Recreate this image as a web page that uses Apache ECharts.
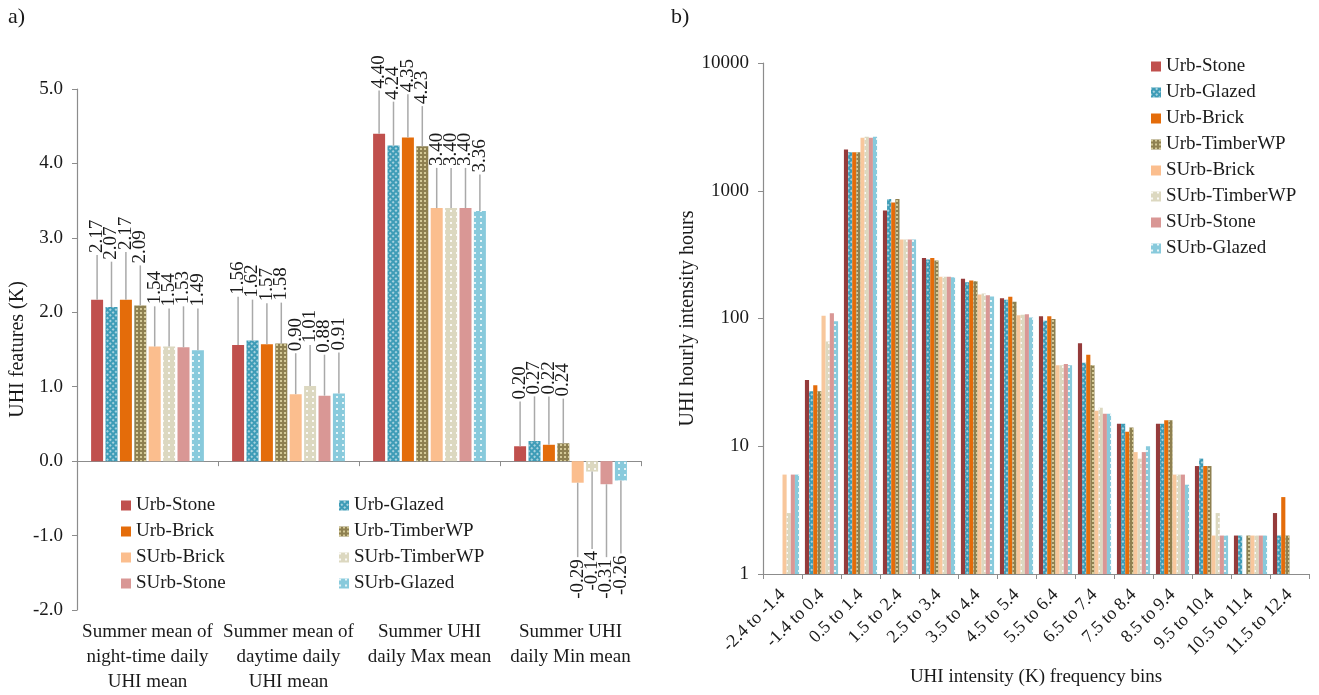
<!DOCTYPE html>
<html><head><meta charset="utf-8">
<script src="https://cdn.jsdelivr.net/npm/echarts@6/dist/echarts.min.js"></script>
<style>html,body{margin:0;padding:0;background:#fff}#c{width:1319px;height:695px}</style>
</head><body><div id="c"></div>
<script>
// ---------- DATA ----------
const seriesNames = ['Urb-Stone','Urb-Glazed','Urb-Brick','Urb-TimberWP','SUrb-Brick','SUrb-TimberWP','SUrb-Stone','SUrb-Glazed'];
const featureCategories = ['Summer mean of\nnight-time daily\nUHI mean','Summer mean of\ndaytime daily\nUHI mean','Summer UHI\ndaily Max mean','Summer UHI\ndaily Min mean'];
const featureTicks = [-2, -1, 0, 1, 2, 3, 4, 5];

// panel a: mean values per series (4 categories)
const urbStoneMean    = [2.17, 1.56, 4.40, 0.20];
const urbGlazedMean   = [2.07, 1.62, 4.24, 0.27];
const urbBrickMean    = [2.17, 1.57, 4.35, 0.22];
const urbTimberMean   = [2.09, 1.58, 4.23, 0.24];
const surbBrickMean   = [1.54, 0.90, 3.40, -0.29];
const surbTimberMean  = [1.54, 1.01, 3.40, -0.14];
const surbStoneMean   = [1.53, 0.88, 3.40, -0.31];
const surbGlazedMean  = [1.49, 0.91, 3.36, -0.26];
// panel a: error bar lengths (estimated)
const urbStoneErr   = [0.60, 0.65, 0.58, 0.60];
const urbGlazedErr  = [0.61, 0.55, 0.59, 0.60];
const urbBrickErr   = [0.64, 0.55, 0.58, 0.65];
const urbTimberErr  = [0.54, 0.55, 0.54, 0.60];
const surbBrickErr  = [0.54, 0.55, 0.54, 1.00];
const surbTimberErr = [0.51, 0.55, 0.54, 1.04];
const surbStoneErr  = [0.55, 0.55, 0.54, 0.98];
const surbGlazedErr = [0.56, 0.55, 0.49, 0.98];

// panel b
const intensityBins = ['-2.4 to -1.4','-1.4 to 0.4','0.5 to 1.4','1.5 to 2.4','2.5 to 3.4','3.5 to 4.4','4.5 to 5.4','5.5 to 6.4','6.5 to 7.4','7.5 to 8.4','8.5 to 9.4','9.5 to 10.4','10.5 to 11.4','11.5 to 12.4'];
const urbStoneHours   = [null, 33, 2100, 700, 298, 205, 144, 104, 64, 15, 15, 7, 2, 3];
const urbGlazedHours  = [null, 27, 2000, 860, 289, 192, 140, 96, 45, 15, 15, 8, 2, 2];
const urbBrickHours   = [null, 30, 2000, 810, 298, 198, 148, 104, 52, 13, 16, 7, null, 4];
const urbTimberHours  = [null, 27, 2000, 860, 284, 196, 135, 99, 43, 14, 16, 7, 2, 2];
const surbBrickHours  = [6, 105, 2600, 415, 212, 154, 106, 43, 19, 9, 6, 2, 2, null];
const surbTimberHours = [3, 66, 2650, 415, 212, 157, 107, 43, 20, 8, 6, 3, 2, null];
const surbStoneHours  = [6, 110, 2600, 415, 212, 152, 108, 44, 18, 9, 6, 2, 2, null];
const surbGlazedHours = [6, 95, 2650, 415, 210, 149, 102, 43, 18, 10, 5, 2, 2, null];
const hourTicks = [1, 10, 100, 1000, 10000];

// ---------- STYLE ----------
const FONT = '"Liberation Serif", "Times New Roman", serif';
const TXT = '#1a1a1a';
const AX = '#8c8c8c';
const meanArr = [urbStoneMean, urbGlazedMean, urbBrickMean, urbTimberMean, surbBrickMean, surbTimberMean, surbStoneMean, surbGlazedMean];
const errArr = [urbStoneErr, urbGlazedErr, urbBrickErr, urbTimberErr, surbBrickErr, surbTimberErr, surbStoneErr, surbGlazedErr];
const hoursArr = [urbStoneHours, urbGlazedHours, urbBrickHours, urbTimberHours, surbBrickHours, surbTimberHours, surbStoneHours, surbGlazedHours];

const colorsA = ['#C0504D', '#3E9CB7', '#E46C0A', '#8E8050', '#FBBE8E', '#DCD8C0', '#D99795', '#88CADC'];
const colorsB = ['#953B3B', '#3E9CB7', '#E46C0A', '#8E8050', '#F8C79C', '#DCD8C0', '#D99795', '#88CADC'];
const decals = [
  null,
  {symbol:'rect', symbolSize:1, dashArrayX:[2,2], dashArrayY:[2,2], rotation:Math.PI/4, color:'rgba(255,255,255,0.55)'},
  null,
  {symbol:'rect', symbolSize:1, dashArrayX:[2,2], dashArrayY:[2,2], color:'rgba(235,225,175,0.75)'},
  null,
  {symbol:'rect', symbolSize:1, dashArrayX:[1.5,3.5], dashArrayY:[1.5,3.5], color:'rgba(255,255,255,0.85)'},
  null,
  {symbol:'rect', symbolSize:1, dashArrayX:[1.5,4], dashArrayY:[1.5,4], color:'rgba(255,255,255,0.8)'}
];
function itemStyleFor(color, si) {
  const s = {color};
  if (decals[si]) s.decal = decals[si];
  return s;
}

const BAR_W = 12, GAP = 0.2;
const step = BAR_W * (1 + GAP);
const totalW = 8 * BAR_W + 7 * BAR_W * GAP;

const series = [];
seriesNames.forEach((name, si) => {
  series.push({
    name, type:'bar', xAxisIndex:0, yAxisIndex:0,
    data: meanArr[si], barWidth: BAR_W, barGap: '20%',
    itemStyle: itemStyleFor(colorsA[si], si),
    emphasis: {disabled: true}
  });
});
seriesNames.forEach((name, si) => {
  const off = -totalW / 2 + BAR_W / 2 + si * step;
  series.push({
    type:'custom', xAxisIndex:0, yAxisIndex:0, z: 4, silent: true,
    data: meanArr[si].map((v, i) => [i, v, errArr[si][i]]),
    renderItem(params, api) {
      const i = api.value(0), v = api.value(1), e = api.value(2);
      const end = v >= 0 ? v + e : v - e;
      const p0 = api.coord([i, v]), p1 = api.coord([i, end]);
      const x = p0[0] + off;
      return {type:'group', children:[
        {type:'line', shape:{x1:x, y1:p0[1], x2:x, y2:p1[1]}, style:{stroke:'#A9A9A9', lineWidth:1.5}},
        {type:'text', x: x, y: v >= 0 ? p1[1] - 2 : p1[1] + 2, rotation: Math.PI / 2,
         style:{text: v.toFixed(2), align: v >= 0 ? 'left' : 'right', verticalAlign:'middle',
                fontSize: 19, fontFamily: FONT, fill: TXT}}
      ]};
    }
  });
});
seriesNames.forEach((name, si) => {
  series.push({
    name, type:'bar', xAxisIndex:2, yAxisIndex:1,
    data: hoursArr[si], barGap: 0, barCategoryGap: '15%',
    itemStyle: itemStyleFor(colorsB[si], si),
    emphasis: {disabled: true}
  });
});

const legendCommon = {
  orient:'vertical', icon:'rect', itemWidth:10, itemHeight:10, itemGap:7, selectedMode:false,
  textStyle:{fontFamily:FONT, fontSize:19, lineHeight:19, color:TXT}
};

const option = {
  animation: false,
  textStyle: {fontFamily: FONT},
  grid: [
    {left:77, top:89, width:564, height:522},
    {left:763, top:63, width:546, height:511}
  ],
  legend: [
    Object.assign({}, legendCommon, {left:116, top:491, data:[seriesNames[0], seriesNames[2], seriesNames[4], seriesNames[6]]}),
    Object.assign({}, legendCommon, {left:334, top:491, data:[seriesNames[1], seriesNames[3], seriesNames[5], seriesNames[7]]}),
    Object.assign({}, legendCommon, {left:1146, top:52, data:seriesNames})
  ],
  xAxis: [
    {type:'category', gridIndex:0, data:featureCategories,
     axisLine:{onZero:true, lineStyle:{color:AX, width:1.2}},
     axisTick:{show:true, length:5, lineStyle:{color:AX}},
     axisLabel:{show:false}, splitLine:{show:false}},
    {type:'category', gridIndex:0, data:featureCategories, position:'bottom',
     axisLine:{show:false, onZero:false}, axisTick:{show:false}, splitLine:{show:false},
     axisLabel:{interval:0, fontSize:19, lineHeight:25, margin:10, color:TXT, fontFamily:FONT}},
    {type:'category', gridIndex:1, data:intensityBins,
     axisLine:{lineStyle:{color:AX, width:1.2}},
     axisTick:{show:true, length:5, lineStyle:{color:AX}},
     axisLabel:{interval:0, rotate:45, fontSize:18, margin:18, color:TXT, fontFamily:FONT},
     name:'UHI intensity (K) frequency bins', nameLocation:'middle', nameGap:94,
     nameTextStyle:{fontSize:19, color:TXT, fontFamily:FONT}}
  ],
  yAxis: [
    {type:'value', gridIndex:0, min:featureTicks[0], max:featureTicks[featureTicks.length-1], interval:1,
     axisLine:{show:true, lineStyle:{color:AX, width:1.2}},
     axisTick:{show:true, length:5, lineStyle:{color:AX}},
     splitLine:{show:false},
     axisLabel:{formatter:v => v.toFixed(1), fontSize:19, margin:14, color:TXT, fontFamily:FONT},
     name:'UHI features (K)', nameLocation:'middle', nameGap:49,
     nameTextStyle:{fontSize:20, color:TXT, fontFamily:FONT}},
    {type:'log', gridIndex:1, logBase:10, min:hourTicks[0], max:hourTicks[hourTicks.length-1],
     axisLine:{show:true, lineStyle:{color:AX, width:1.2}},
     axisTick:{show:true, length:5, lineStyle:{color:AX}},
     minorTick:{show:false}, splitLine:{show:false},
     axisLabel:{formatter:v => String(Math.round(v)), fontSize:19, margin:14, color:TXT, fontFamily:FONT},
     name:'UHI hourly intensity hours', nameLocation:'middle', nameGap:62,
     nameTextStyle:{fontSize:20, color:TXT, fontFamily:FONT}}
  ],
  graphic: [
    {type:'text', left:8, top:6, style:{text:'a)', fontSize:22, fontFamily:FONT, fill:TXT}},
    {type:'text', left:671, top:6, style:{text:'b)', fontSize:22, fontFamily:FONT, fill:TXT}}
  ],
  series
};
const chart = echarts.init(document.getElementById('c'), null, {renderer:'canvas'});
chart.setOption(option);
</script>
</body></html>
